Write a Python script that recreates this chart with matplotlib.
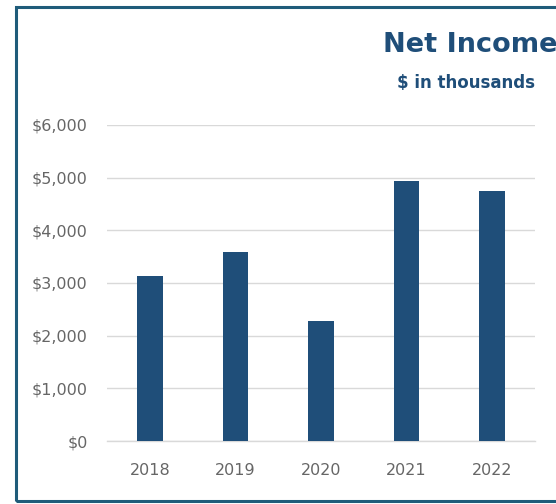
import matplotlib.pyplot as plt
from matplotlib.patches import Rectangle
from matplotlib.ticker import FuncFormatter

years = ["2018", "2019", "2020", "2021", "2022"]
net_income = [3130, 3590, 2280, 4940, 4750]
y_ticks = [0, 1000, 2000, 3000, 4000, 5000, 6000]

plt.rcParams['font.family'] = ['DejaVu Sans']

fig = plt.figure(figsize=(5.56, 5.04), dpi=100)
ax = fig.add_axes([107/556, 0.125, 428/556, 0.627])

ax.bar(years, net_income, width=0.3, color='#1f4e79', zorder=3)

ax.set_ylim(0, 6000)
ax.set_xlim(-0.5, 4.5)
ax.set_yticks(y_ticks)
ax.yaxis.set_major_formatter(FuncFormatter(lambda v, p: f"${v:,.0f}"))
ax.grid(axis='y', color='#d9d9d9', linewidth=1, zorder=0)
# baseline gridline gets half clipped at the axes edge, so redraw it
ax.axhline(0, color='#d9d9d9', linewidth=1, zorder=1, clip_on=False)
for s in ax.spines.values():
    s.set_visible(False)
ax.tick_params(length=0, colors='#666666')
ax.tick_params(axis='y', pad=14, labelsize=11.5)
ax.tick_params(axis='x', pad=16, labelsize=11.5)

# title block in the top right
fig.text(383/556, 1 - 52/504, "Net Income", fontsize=19.5, fontweight='bold',
         color='#1f4e79', ha='left', va='baseline')
fig.text(397/556, 1 - 88/504, "$ in thousands", fontsize=12, fontweight='bold',
         color='#1f4e79', ha='left', va='baseline')

# frame around the chart
fig.patches.append(Rectangle((16/556, 1 - 501/504), 600/556, (501 - 7)/504,
                             transform=fig.transFigure, fill=False,
                             edgecolor='#1f5c7a', linewidth=2.2))

fig.savefig("out.png", dpi=100)
